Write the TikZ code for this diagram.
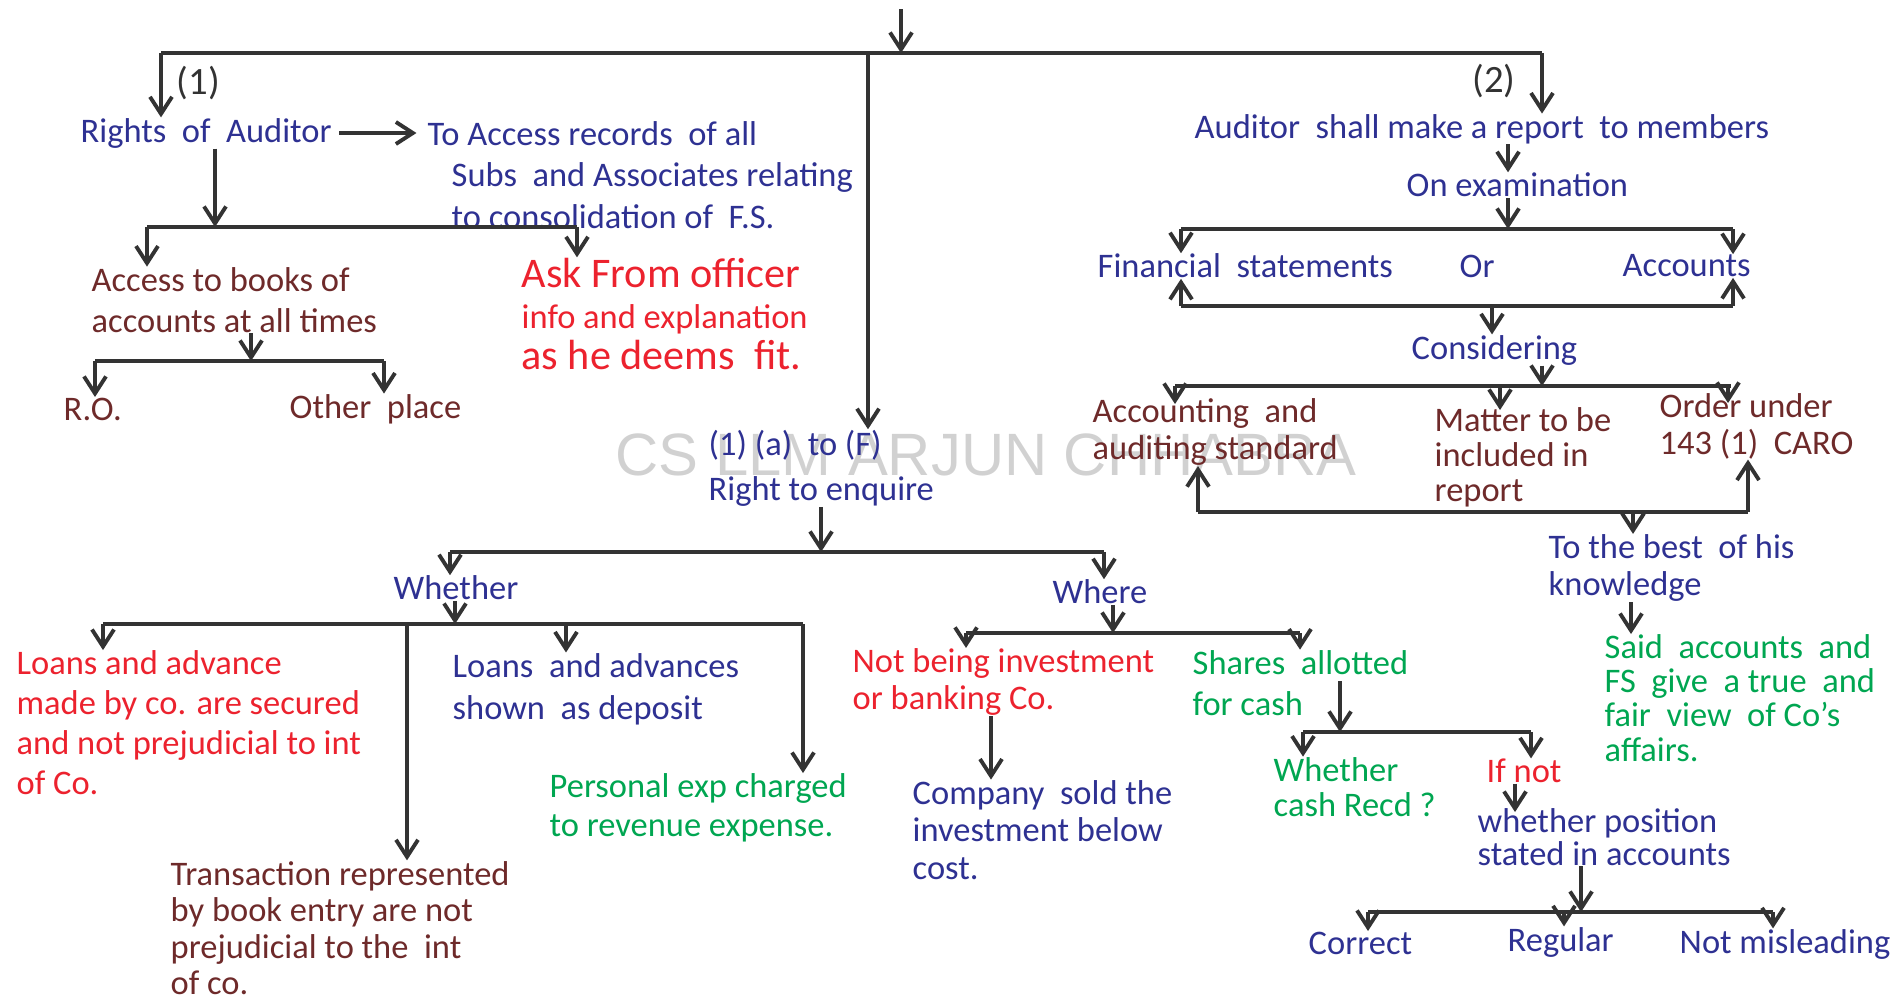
\documentclass[tikz,border=0pt]{standalone}
\usepackage{fontspec}
\setmainfont{Carlito}
\newfontfamily\markfont{Liberation Sans}
\usetikzlibrary{arrows.meta, positioning}
\definecolor{inkblue}{RGB}{46,49,146}
\definecolor{inkred}{RGB}{236,34,46}
\definecolor{inkgreen}{RGB}{0,166,81}
\definecolor{inkbrown}{RGB}{110,42,42}
\definecolor{inkline}{RGB}{51,51,51}
\tikzset{
  lines/.style={font=\fontsize{9.8}{#1}\selectfont},
  txt/.style={anchor=west, align=left, inner sep=0pt, lines=11.5pt},
  bluetxt/.style={txt, text=inkblue},
  redtxt/.style={txt, text=inkred},
  greentxt/.style={txt, text=inkgreen},
  browntxt/.style={txt, text=inkbrown},
  numtxt/.style={txt, text=inkline, font=\fontsize{11}{12}\selectfont},
  bar/.style={draw=inkline, line width=1.1pt},
  link/.style={bar, -{Straight Barb[length=1.7mm,width=2.2mm]}},
}

\begin{document}
\begin{tikzpicture}
	[x=0.01cm, y=-0.01cm]
   \useasboundingbox (0,0) rectangle (1901,1002);
   \node[text=gray!45, opacity=0.8, font=\markfont\fontsize{17}{17}\selectfont] (wm) at (986,455) {CS LLM ARJUN CHHABRA};

   % (1) rights of auditor
   \node[numtxt] (one) at (176,83) {(1)};
   \node[bluetxt] (rights) at (80,133) {Rights~ of~ Auditor};
   \node[bluetxt, lines=11.8pt] (records) at (427,175) {To Access records~ of all\\\hspace*{0.24cm}Subs~ and Associates relating\\\hspace*{0.24cm}to consolidation of~ F.S.};
   \node[browntxt, lines=11.7pt] (books) at (91,300) {Access to books of\\accounts at all times};
   \node[browntxt] (ro) at (63,409) {R.O.};
   \node[browntxt] (other) at (289,409) {Other~ place};
   \node[redtxt, lines=11.7pt] (officer) at (521,314) {{\fontsize{12}{11.7}\selectfont Ask From officer}\\info and explanation\\{\fontsize{12}{11.7}\selectfont as he deems~ fit.}};

   % (1)(a) to (F)
   \node[bluetxt, lines=12.8pt] (enquire) at (708,468) {(1) (a)~ to (F)\\Right to enquire};
   \node[bluetxt] (whether) at (393,588) {Whether};
   \node[redtxt, lines=11.4pt] (secured) at (16,723) {Loans and advance\\made by co. are secured\\and not prejudicial to int\\of Co.};
   \node[bluetxt, lines=12pt] (deposit) at (452,689) {Loans~ and advances\\shown~ as deposit};
   \node[greentxt, lines=11.1pt] (personal) at (549,808) {Personal exp charged\\to revenue expense.};
   \node[browntxt, lines=10.4pt] (entry) at (170,928) {Transaction represented\\by book entry are not\\prejudicial to the~ int\\of co.};
   \node[bluetxt] (where) at (1052,592) {Where};
   \node[redtxt, lines=10.5pt] (banking) at (852,682) {Not being investment\\or banking Co.};
   \node[bluetxt, lines=10.7pt] (sold) at (912,830) {Company~ sold the\\investment below\\cost.};
   \node[greentxt, lines=11.7pt] (shares) at (1192,683) {Shares~ allotted\\for cash};
   \node[greentxt, lines=10pt] (recd) at (1273,787) {Whether\\cash Recd ?};
   \node[redtxt] (ifnot) at (1486,771) {If not};
   \node[bluetxt, lines=9.4pt] (position) at (1477,837) {whether position\\stated in accounts};
   \node[bluetxt] (correct) at (1308,943) {Correct};
   \node[bluetxt] (regular) at (1507,942) {Regular};
   \node[bluetxt] (misleading) at (1679,944) {Not misleading};

   % (2) report
   \node[numtxt, anchor=center] (two) at (1494,81) {(2)};
   \node[bluetxt] (report) at (1194,129) {Auditor~ shall make a report~ to members};
   \node[bluetxt] (exam) at (1406,185) {On examination};
   \node[bluetxt] (fs) at (1097,266) {Financial~ statements};
   \node[bluetxt] (either) at (1459,266) {Or};
   \node[bluetxt] (accounts) at (1622,266) {Accounts};
   \node[bluetxt] (considering) at (1411,350) {Considering};
   \node[browntxt, lines=10.5pt] (standard) at (1092,432) {Accounting~ and\\auditing standard};
   \node[browntxt, lines=10pt] (matter) at (1434,457) {Matter to be\\included in\\report};
   \node[browntxt, lines=10.5pt] (order) at (1659,426) {Order under\\143 (1)~ CARO};
   \node[bluetxt, lines=10.5pt] (best) at (1548,568) {To the best~ of his\\knowledge};
   \node[greentxt, lines=9.7pt] (said) at (1604,698) {Said~ accounts~ and\\FS~ give~ a true~ and\\fair~ view~ of Co's\\affairs.};

   \coordinate (top) at (901,9);
   \coordinate (root) at (901,53);
   \coordinate (mainL) at (161,53);
   \coordinate (mainM) at (868,53);
   \coordinate (mainR) at (1542,53);
   \draw[link] (top) -- (root);
   \draw[bar] (mainL) -- (mainR);
   \draw[link] (mainL) -- (mainL |- rights.north);
   \draw[link] (mainM) -- (mainM |- enquire.north);
   \draw[link] (mainR) -- (mainR |- report.north);

   \draw[link, shorten <=2pt, shorten >=3pt] (rights.east) -- (rights.east -| records.west);
   \coordinate (rightsJ) at (215,227);
   \coordinate (rightsL) at (147,227);
   \coordinate (rightsR) at (577,227);
   \draw[link] (rightsJ |- rights.south) -- (rightsJ);
   \draw[bar] (rightsL) -- (rightsR);
   \draw[link] (rightsL) -- (rightsL |- books.north);
   \draw[link] (rightsR) -- (rightsR |- officer.north);

   \coordinate (booksJ) at (251,361);
   \coordinate (booksL) at (95,361);
   \coordinate (booksR) at (384,361);
   \draw[link] (booksJ |- books.south) -- (booksJ);
   \draw[bar] (booksL) -- (booksR);
   \draw[link] (booksL) -- (booksL |- ro.north);
   \draw[link] (booksR) -- (booksR |- other.north);

   \coordinate (enqJ) at (821,552);
   \coordinate (enqL) at (450,552);
   \coordinate (enqR) at (1104,552);
   \draw[link] (enqJ |- enquire.south) -- (enqJ);
   \draw[bar] (enqL) -- (enqR);
   \draw[link] (enqL) -- (enqL |- whether.north);
   \draw[link] (enqR) -- (enqR |- where.north);

   \coordinate (whJ) at (455,624);
   \coordinate (whL) at (103,624);
   \coordinate (whA) at (407,624);
   \coordinate (whB) at (566,624);
   \coordinate (whR) at (803,624);
   \draw[link] (whJ |- whether.south) -- (whJ);
   \draw[bar] (whL) -- (whR);
   \draw[link] (whL) -- (whL |- secured.north);
   \draw[link] (whA) -- (whA |- entry.north);
   \draw[link] (whB) -- (whB |- deposit.north);
   \draw[link] (whR) -- (whR |- personal.north);

   \coordinate (weJ) at (1113,633);
   \coordinate (weL) at (966,633);
   \coordinate (weR) at (1300,633);
   \draw[link] (weJ |- where.south) -- (weJ);
   \draw[bar] (weL) -- (weR);
   \draw[link] (weL) -- (weL |- banking.north);
   \draw[link] (weR) -- (weR |- shares.north);
   \coordinate (soldX) at (991,0);
   \draw[link] (soldX |- banking.south) -- (soldX |- sold.north);

   \coordinate (shS) at (1340,681);
   \coordinate (shJ) at (1340,732);
   \coordinate (shL) at (1303,732);
   \coordinate (shR) at (1531,732);
   \draw[link] (shS) -- (shJ);
   \draw[bar] (shL) -- (shR);
   \draw[link] (shL) -- (shL |- recd.north);
   \draw[link] (shR) -- (shR |- ifnot.north);
   \coordinate (ifT) at (1515,812);
   \draw[link] (ifT |- ifnot.south) -- (ifT);

   \coordinate (poJ) at (1581,912);
   \coordinate (poL) at (1368,912);
   \coordinate (poM) at (1564,912);
   \coordinate (poR) at (1773,912);
   \draw[link] (poJ |- position.south) -- (poJ);
   \draw[bar] (poL) -- (poR);
   \draw[link] (poL) -- (poL |- correct.north);
   \draw[link] (poM) -- (poM |- regular.north);
   \draw[link] (poR) -- (poR |- misleading.north);

   \coordinate (exX) at (1508,0);
   \draw[link] (exX |- report.south) -- (exX |- exam.north);
   \coordinate (exJ) at (1508,229);
   \coordinate (exL) at (1181,229);
   \coordinate (exR) at (1733,229);
   \draw[link] (exJ |- exam.south) -- (exJ);
   \draw[bar] (exL) -- (exR);
   \draw[link] (exL) -- (exL |- fs.north);
   \draw[link] (exR) -- (exR |- accounts.north);

   \coordinate (fsJ) at (1492,306);
   \coordinate (fsL) at (1181,306);
   \coordinate (fsR) at (1733,306);
   \draw[bar] (fsL) -- (fsR);
   \draw[link] (fsL) -- (fsL |- fs.south);
   \draw[link] (fsR) -- (fsR |- accounts.south);
   \draw[link] (fsJ) -- (fsJ |- considering.north);

   \coordinate (coJ) at (1542,386);
   \coordinate (coL) at (1175,386);
   \coordinate (coM) at (1500,386);
   \coordinate (coR) at (1731,386);
   \coordinate (stdT) at (1175,404);
   \coordinate (matT) at (1500,410);
   \coordinate (ordT) at (1728,403);
   \draw[link] (coJ |- considering.south) -- (coJ);
   \draw[bar] (coL) -- (coR);
   \draw[link] (coL) -- (stdT);
   \draw[link] (coM) -- (matT);
   \draw[link] (ordT |- coR) -- (ordT);

   \coordinate (knJ) at (1633,512);
   \coordinate (knL) at (1198,512);
   \coordinate (knR) at (1748,512);
   \draw[bar] (knL) -- (knR);
   \draw[link] (knL) -- (knL |- standard.south);
   \draw[link] (knR) -- (knR |- order.south);
   \draw[link] (knJ) -- (knJ |- best.north);
   \coordinate (bestX) at (1631,0);
   \draw[link] (bestX |- best.south) -- (bestX |- said.north);

\end{tikzpicture}
\end{document}
